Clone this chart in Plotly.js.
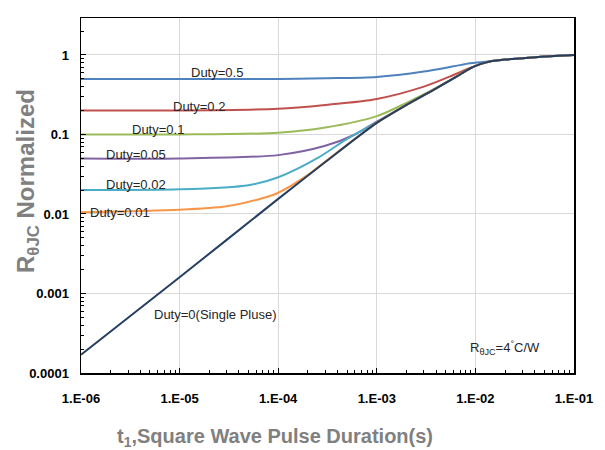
<!DOCTYPE html>
<html>
<head>
<meta charset="utf-8">
<script src="https://cdn.plot.ly/plotly-3.0.1.min.js"></script>
<style>html,body{margin:0;padding:0;background:#fff;}#chart{width:605px;height:450px;}</style>
</head>
<body>
<div id="chart"></div>
<script>
// Single pulse (Duty=0)
const xSingle = [1e-6, 1e-5, 1e-4, 3e-4, 1e-3, 2e-3, 4e-3, 6.3e-3, 8.8e-3, 1.12e-2, 1.4e-2, 2e-2, 3.5e-2, 6.3e-2, 1e-1];
const ySingle = [0.00017, 0.0016, 0.0155, 0.045, 0.14, 0.235, 0.38, 0.525, 0.676, 0.767, 0.83, 0.875, 0.925, 0.97, 1.0];
// Duty=0.5
const xD05 = [1e-6, 1e-5, 1e-4, 3e-4, 1e-3, 3e-3, 6e-3, 8.8e-3, 1.12e-2, 1.4e-2, 2e-2, 3.5e-2, 6.3e-2, 1e-1];
const yD05 = [0.5, 0.5, 0.5, 0.51, 0.53, 0.62, 0.72, 0.785, 0.81, 0.835, 0.875, 0.925, 0.97, 1.0];
// Duty=0.2
const xD02 = [1e-6, 1e-5, 1e-4, 3e-4, 1e-3, 3e-3, 6e-3, 8.8e-3, 1.12e-2, 1.4e-2, 2e-2, 3.5e-2, 6.3e-2, 1e-1];
const yD02 = [0.2, 0.2, 0.21, 0.235, 0.28, 0.40, 0.56, 0.685, 0.767, 0.83, 0.875, 0.925, 0.97, 1.0];
// Duty=0.1
const xD01 = [1e-6, 1e-5, 1e-4, 3e-4, 1e-3, 2e-3, 4e-3, 6.3e-3, 8.8e-3, 1.12e-2, 1.4e-2, 2e-2, 3.5e-2, 6.3e-2, 1e-1];
const yD01 = [0.1, 0.1, 0.105, 0.122, 0.17, 0.25, 0.385, 0.525, 0.676, 0.767, 0.83, 0.875, 0.925, 0.97, 1.0];
// Duty=0.05
const xD005 = [1e-6, 1e-5, 1e-4, 3e-4, 6e-4, 1e-3, 2e-3, 4e-3, 6.3e-3, 8.8e-3, 1.12e-2, 1.4e-2, 2e-2, 3.5e-2, 6.3e-2, 1e-1];
const yD005 = [0.05, 0.05, 0.055, 0.072, 0.10, 0.145, 0.235, 0.38, 0.525, 0.676, 0.767, 0.83, 0.875, 0.925, 0.97, 1.0];
// Duty=0.02
const xD002 = [1e-6, 1e-5, 5e-5, 1e-4, 2.6e-4, 5e-4, 1e-3, 2e-3, 4e-3, 6.3e-3, 8.8e-3, 1.12e-2, 1.4e-2, 2e-2, 3.5e-2, 6.3e-2, 1e-1];
const yD002 = [0.02, 0.0204, 0.023, 0.029, 0.052, 0.088, 0.142, 0.235, 0.38, 0.525, 0.676, 0.767, 0.83, 0.875, 0.925, 0.97, 1.0];
// Duty=0.01
const xD001 = [1e-6, 1e-5, 3e-5, 6e-5, 1e-4, 2e-4, 4e-4, 1e-3, 2e-3, 4e-3, 6.3e-3, 8.8e-3, 1.12e-2, 1.4e-2, 2e-2, 3.5e-2, 6.3e-2, 1e-1];
const yD001 = [0.0105, 0.0113, 0.0125, 0.015, 0.0185, 0.031, 0.060, 0.14, 0.235, 0.38, 0.525, 0.676, 0.767, 0.83, 0.875, 0.925, 0.97, 1.0];

const xTickVals = [1e-6, 1e-5, 1e-4, 1e-3, 1e-2, 1e-1];
const xTickText = ["1.E-06", "1.E-05", "1.E-04", "1.E-03", "1.E-02", "1.E-01"];
const yTickVals = [1e-4, 1e-3, 1e-2, 1e-1, 1];
const yTickText = ["0.0001", "0.001", "0.01", "0.1", "1"];

const series = [
  {x: xD05, y: yD05, c: "#4F81BD"},
  {x: xD02, y: yD02, c: "#C0504D"},
  {x: xD01, y: yD01, c: "#9BBB59"},
  {x: xD005, y: yD005, c: "#8064A2"},
  {x: xD002, y: yD002, c: "#4BACC6"},
  {x: xD001, y: yD001, c: "#F79646"},
  {x: xSingle, y: ySingle, c: "#243F60"}
];
const traces = series.map(s => ({
  x: s.x, y: s.y, type: "scatter", mode: "lines",
  line: {color: s.c, width: 2, shape: "spline", smoothing: 0.8},
  hoverinfo: "skip", showlegend: false
}));

const af = {family: "Liberation Sans, Arial, sans-serif", size: 13, color: "#262626"};
const annotations = [
  {x: -4.62, y: -0.226, text: "Duty=0.5"},
  {x: -4.80, y: -0.642, text: "Duty=0.2"},
  {x: -5.22, y: -0.943, text: "Duty=0.1"},
  {x: -5.44, y: -1.258, text: "Duty=0.05"},
  {x: -5.44, y: -1.623, text: "Duty=0.02"},
  {x: -5.60, y: -1.975, text: "Duty=0.01"},
  {x: -4.64, y: -3.27, text: "Duty=0(Single Pluse)"},
  {x: -1.70, y: -3.69, text: "R<sub>θJC</sub>=4<sup>°</sup>C/W"}
].map(a => Object.assign({xref: "x", yref: "y", showarrow: false, xanchor: "center", yanchor: "middle", font: af}, a));

annotations.push({
  xref: "paper", yref: "paper", x: (275 - 81) / 493, y: -(437 - 373) / 355,
  xanchor: "center", yanchor: "middle", showarrow: false,
  text: "t<sub>1</sub>,Square Wave Pulse Duration(s)",
  font: {family: "Liberation Sans, Arial, sans-serif", size: 20, color: "#808080", weight: "bold"}
});
annotations.push({
  xref: "paper", yref: "paper", x: -(81 - 27) / 493, y: (373 - 181) / 355,
  xanchor: "center", yanchor: "middle", showarrow: false, textangle: -90,
  text: "R<sub>θJC</sub> Normalized",
  font: {family: "Liberation Sans, Arial, sans-serif", size: 24, color: "#808080", weight: "bold"}
});

const tf = {family: "Liberation Sans, Arial, sans-serif", size: 13, color: "#000", weight: "bold"};
const layout = {
  width: 605, height: 450,
  margin: {l: 81, r: 31, t: 18, b: 77},
  paper_bgcolor: "#fff", plot_bgcolor: "#fff",
  showlegend: false,
  xaxis: {
    type: "log", range: [-6, -1],
    tickmode: "array", tickvals: xTickVals, ticktext: xTickText,
    tickfont: tf, ticks: "inside", ticklen: 5, tickcolor: "#000",
    ticklabelstandoff: 13,
    showgrid: true, gridcolor: "#d9d9d9", gridwidth: 1,
    showline: true, linecolor: "#000", linewidth: 1.5, mirror: true,
    minor: {ticks: "inside", ticklen: 3, tickcolor: "#000", dtick: "D1", showgrid: false},
    zeroline: false
  },
  yaxis: {
    type: "log", range: [-4, 0.465],
    tickmode: "array", tickvals: yTickVals, ticktext: yTickText,
    tickfont: tf, ticks: "inside", ticklen: 5, tickcolor: "#000",
    ticklabelstandoff: 8,
    showgrid: true, gridcolor: "#d9d9d9", gridwidth: 1,
    showline: true, linecolor: "#000", linewidth: 1.5, mirror: true,
    minor: {ticks: "inside", ticklen: 3, tickcolor: "#000", dtick: "D1", showgrid: false},
    zeroline: false
  },
  annotations: annotations
};
Plotly.newPlot("chart", traces, layout, {staticPlot: true, displayModeBar: false});
</script>
</body>
</html>
